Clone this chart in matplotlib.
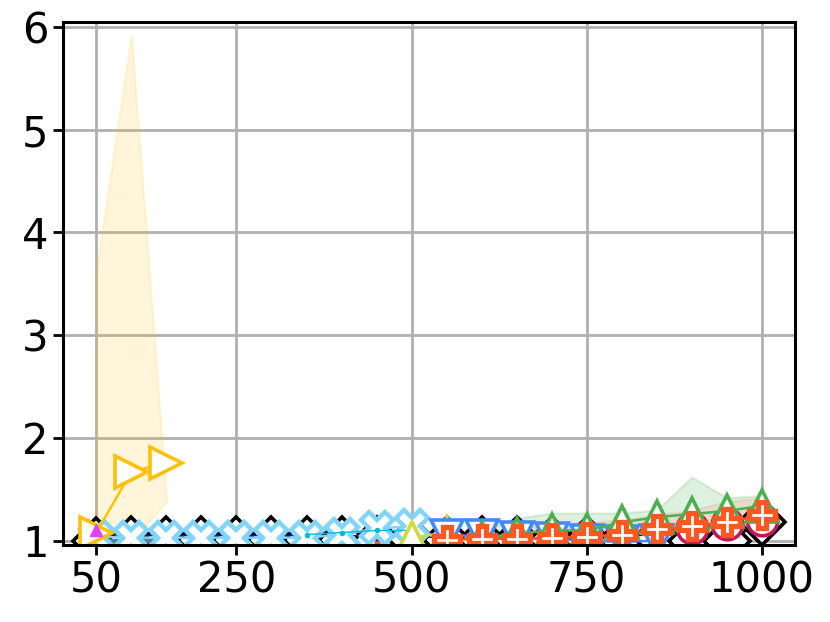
import matplotlib
matplotlib.use("Agg")
import matplotlib.pyplot as plt

plt.rcParams["font.family"] = ["DejaVu Sans"]

# x positions shared by most series
x_all = [50, 100, 150, 200, 250, 300, 350, 400, 450, 500,
         550, 600, 650, 700, 750, 800, 850, 900, 950, 1000]

# black diamonds, every x
black_y = [1.0, 1.01, 1.01, 1.01, 1.01, 1.01, 1.01, 1.01, 1.01, 1.01,
           1.01, 1.01, 1.01, 1.01, 1.01, 1.01, 1.03, 1.0, 1.0, 1.18]

# small blue markers, every x
blue_y = [1.04, 1.05, 1.05, 1.05, 1.05, 1.05, 1.05, 1.05, 1.05, 1.04,
          1.03, 1.02, 1.02, 1.02, 1.02, 1.03, 1.07, 1.12, 1.16, 1.2]

# small red markers at the bottom, left half
red_x = [50, 100, 150, 200, 250, 300, 350, 400, 450, 500]
red_y = [0.99, 0.99, 0.99, 0.99, 0.99, 0.99, 0.99, 0.99, 0.99, 0.99]

# amber right triangles with a wide band
amber_x = [50, 100, 150]
amber_y = [1.08, 1.67, 1.76]
amber_lo = [1.0, 1.0, 1.38]
amber_hi = [3.64, 5.93, 1.40]

# purple circles
purple_x = [50, 100]
purple_y = [1.0, 1.0]

# slate tri markers
slate_x = [50, 100, 150]
slate_y = [1.0, 1.0, 1.0]

# light blue X
lblue_x = [50, 100, 150, 200, 250, 300, 350, 400, 450, 500]
lblue_y = [1.04, 1.03, 1.03, 1.03, 1.03, 1.03, 1.03, 1.06, 1.12, 1.14]

# cyan small markers
cyan_x = [350, 400, 450, 500]
cyan_y = [1.06, 1.08, 1.1, 1.1]

# lime triangles
lime_x = [500, 550]
lime_y = [1.03, 1.08]

# blue down triangles
bluev_x = [550, 600, 650, 700, 750, 800, 850]
bluev_y = [1.05, 1.05, 1.03, 1.02, 1.0, 0.99, 1.0]

# crimson circles
crimson_x = [900, 950, 1000]
crimson_y = [1.12, 1.16, 1.2]

# green up triangles with band
green_x = [600, 650, 700, 750, 800, 850, 900, 950, 1000]
green_y = [1.03, 1.07, 1.1, 1.1, 1.18, 1.23, 1.26, 1.29, 1.34]
green_lo = [1.0, 1.0, 1.0, 1.0, 1.05, 1.08, 1.1, 1.15, 1.2]
green_hi = [1.1, 1.22, 1.27, 1.27, 1.27, 1.3, 1.62, 1.42, 1.44]

# deep orange plus with band
orange_x = [550, 600, 650, 700, 750, 800, 850, 900, 950, 1000]
orange_y = [1.01, 1.02, 1.02, 1.03, 1.04, 1.06, 1.11, 1.14, 1.18, 1.25]
orange_lo = [1.0, 1.0, 1.0, 1.0, 1.0, 1.0, 1.02, 1.05, 1.08, 1.12]
orange_hi = [1.03, 1.06, 1.12, 1.16, 1.18, 1.2, 1.25, 1.3, 1.38, 1.42]

# magenta small marker
magenta_x = [50]
magenta_y = [1.1]

fig = plt.figure(figsize=(8.3, 6.22), dpi=100)
ax = fig.add_axes([0.076, 0.124, 0.882, 0.841])

mew = 2.6
lw = 1.8

ax.plot(x_all, black_y, color="black", marker="D", ms=23, mfc="white",
        mew=mew, lw=lw)
ax.plot(red_x, red_y, color="#FF5722", marker="^", ms=6, lw=0)
ax.plot(x_all, blue_y, color="#0000FF", marker="p", ms=8, lw=1.0)
ax.plot(purple_x, purple_y, color="#7C4DFF", marker="o", ms=12, mfc="white",
        mew=mew, lw=lw)
ax.plot(slate_x, slate_y, color="#607D8B", marker="1", ms=22,
        mew=3.5, lw=3)
ax.plot(lblue_x, lblue_y, color="#81D4FA", marker="X", ms=23, mfc="white",
        mew=3.2, lw=lw)
ax.plot(cyan_x, cyan_y, color="#00BCD4", marker=".", ms=6, lw=1.0)
ax.plot(lime_x, lime_y, color="#CDDC39", marker="^", ms=23, mfc="white",
        mew=mew, lw=lw)
ax.plot(bluev_x, bluev_y, color="#448AFF", marker="v", ms=23, mfc="white",
        mew=mew, lw=lw)
ax.plot(crimson_x, crimson_y, color="#C2185B", marker="o", ms=22, mfc="white",
        mew=mew, lw=lw)

ax.fill_between(green_x, green_lo, green_hi, color="#4CAF50", alpha=0.18,
                lw=1.5)
ax.plot(green_x, green_y, color="#4CAF50", marker="^", ms=23, mfc="white",
        mew=mew, lw=lw)

ax.fill_between(orange_x, orange_lo, orange_hi, color="#FF5722", alpha=0.12,
                lw=1.5)
ax.plot(orange_x, orange_y, color="#FF5722", marker="P", ms=19, mfc="white",
        mew=3.8, lw=lw)

ax.fill_between(amber_x, amber_lo, amber_hi, color="#FFC107", alpha=0.15,
                lw=1.5)
ax.plot(amber_x, amber_y, color="#FFC107", marker=">", ms=23, mfc="white",
        mew=mew, lw=lw)

ax.plot(magenta_x, magenta_y, color="#E040FB", marker="^", ms=9, lw=0)

ax.set_xlim(2.5, 1047.5)
ax.set_ylim(0.96, 6.05)
ax.set_xticks([50, 250, 500, 750, 1000])
ax.set_yticks([1, 2, 3, 4, 5, 6])
ax.grid(True, color="#b0b0b0", linewidth=2.0)
ax.set_axisbelow(True)
ax.tick_params(labelsize=30, width=2.0, length=7)
for s in ax.spines.values():
    s.set_linewidth(2.2)

fig.savefig("out.png", dpi=100)
